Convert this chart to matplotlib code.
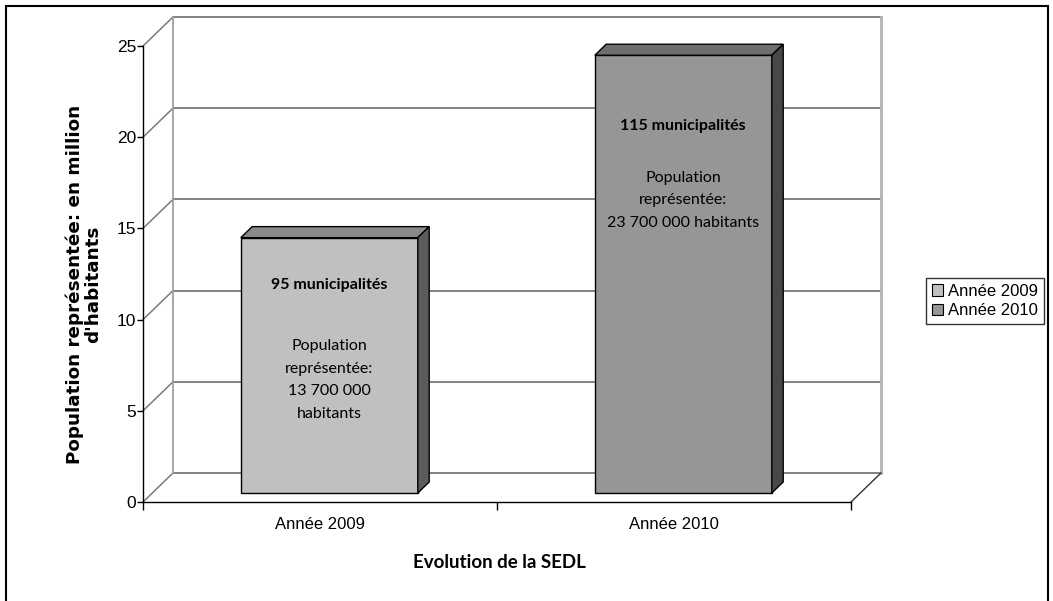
import matplotlib.pyplot as plt
from matplotlib.patches import Polygon, Rectangle, Patch

# taille de l'image en pixels
W, H = 1053, 601

# données du graphique
categories = ["Année 2009", "Année 2010"]
valeurs = [14, 24]  # population représentée (millions d'habitants)
municipalites = ["95 municipalités", "115 municipalités"]
textes = ["Population\nreprésentée:\n13 700 000\nhabitants",
          "Population\nreprésentée:\n23 700 000 habitants"]
graduations_y = [0, 5, 10, 15, 20, 25]

# couleurs des barres (face, dessus, côté)
couleurs_face = ["#c0c0c0", "#969696"]
couleurs_dessus = ["#8a8a8a", "#6e6e6e"]
couleurs_cote = ["#5c5c5c", "#484848"]

# profondeur de la vue 3D (en unités des axes)
DX = 30 / 354
DY = 29 / 18.24
d0, d1 = 0.31, 0.69
largeur = 0.5

fig = plt.figure(figsize=(W / 100, H / 100), dpi=100)
ax = fig.add_axes([143 / W, 1 - 502 / H, 708 / W, 456 / H])
ax.set_xlim(0, len(categories))
ax.set_ylim(0, 25)

gris = "#7a7a7a"
# mur de gauche et mur du fond
for v in graduations_y:
    ax.plot([0, DX], [v, v + DY], color=gris, lw=1.1, clip_on=False, zorder=1)
    ax.plot([DX, len(categories) + DX], [v + DY, v + DY], color=gris, lw=1.3,
            clip_on=False, zorder=1)
ax.plot([DX, DX], [DY, 25 + DY], color="#a0a0a0", lw=1.3, clip_on=False, zorder=1)
ax.plot([len(categories) + DX] * 2, [DY, 25 + DY], color="#b4b4b4", lw=2,
        clip_on=False, zorder=1)
# bord droit du sol
ax.plot([len(categories), len(categories) + DX], [0, DY], color="#333333", lw=1,
        clip_on=False, zorder=1)

# barres en 3D
positions = [i + 0.5 for i in range(len(categories))]
barres = ax.bar([p + d0 * DX for p in positions], valeurs, width=largeur,
                bottom=d0 * DY, color=couleurs_face, edgecolor="black",
                linewidth=1, zorder=3, clip_on=False)
for p, v, cd, cc in zip(positions, valeurs, couleurs_dessus, couleurs_cote):
    x0, x1 = p - largeur / 2, p + largeur / 2
    dessus = [(x0 + d0 * DX, v + d0 * DY), (x1 + d0 * DX, v + d0 * DY),
              (x1 + d1 * DX, v + d1 * DY), (x0 + d1 * DX, v + d1 * DY)]
    cote = [(x1 + d0 * DX, d0 * DY), (x1 + d1 * DX, d1 * DY),
            (x1 + d1 * DX, v + d1 * DY), (x1 + d0 * DX, v + d0 * DY)]
    ax.add_patch(Polygon(dessus, closed=True, facecolor=cd, edgecolor="black",
                         lw=1, zorder=3, clip_on=False))
    ax.add_patch(Polygon(cote, closed=True, facecolor=cc, edgecolor="black",
                         lw=1, zorder=3, clip_on=False))

# textes dans les barres
y_gras = [11.9, 20.6]
y_texte = [6.7, 16.55]
for p, m, t, yg, yt in zip(positions, municipalites, textes, y_gras, y_texte):
    ax.text(p + d0 * DX, yg, m, ha="center", va="center", fontsize=11.5,
            fontweight="bold", family="Lato", color="black", zorder=5)
    ax.text(p + d0 * DX, yt, t, ha="center", va="center", fontsize=11.5,
            family="Lato", color="black", linespacing=1.78, zorder=5)

# axes
for s in ["top", "right"]:
    ax.spines[s].set_visible(False)
ax.spines["left"].set_linewidth(1)
ax.spines["bottom"].set_linewidth(1)
ax.set_yticks(graduations_y)
ax.set_yticklabels([str(v) for v in graduations_y], family="Liberation Sans",
                   fontsize=12.5)
ax.tick_params(axis="y", length=4, width=1, pad=1)
ax.set_xticks(positions)
ax.set_xticklabels(categories, family="Liberation Sans", fontsize=12)
ax.set_xticks(range(len(categories) + 1), minor=True)
ax.tick_params(axis="x", which="major", length=0, pad=11)
ax.tick_params(axis="x", which="minor", length=6, width=1)
ax.patch.set_visible(False)

# titres des axes
fig.text(84 / W, 1 - 284 / H, "Population représentée: en million\nd'habitants",
         rotation=90, ha="center", va="center", fontsize=13.2,
         fontweight="bold", family="DejaVu Sans", linespacing=1.0)
fig.text(499 / W, 1 - 562 / H, "Evolution de la SEDL", ha="center",
         va="center", fontsize=13.5, fontweight="bold", family="Lato")

# légende
handles = [Patch(facecolor=c, edgecolor="black", lw=0.8) for c in couleurs_face]
leg = fig.legend(handles, categories, loc="upper left",
                 bbox_to_anchor=(926 / W, 1 - 278 / H),
                 prop={"family": "Liberation Sans", "size": 12},
                 frameon=True, fancybox=False, edgecolor="black",
                 handlelength=0.65, handleheight=0.65, handletextpad=0.3,
                 borderpad=0.35, labelspacing=0.25, borderaxespad=0)
leg.get_frame().set_linewidth(1)

# cadre autour de la figure (bas hors image)
fig.patches.append(Rectangle((6 / W, -10 / H), 1042 / W, 605 / H,
                             transform=fig.transFigure, fill=False,
                             edgecolor="black", lw=1.5))

fig.savefig("out.png", dpi=100)
